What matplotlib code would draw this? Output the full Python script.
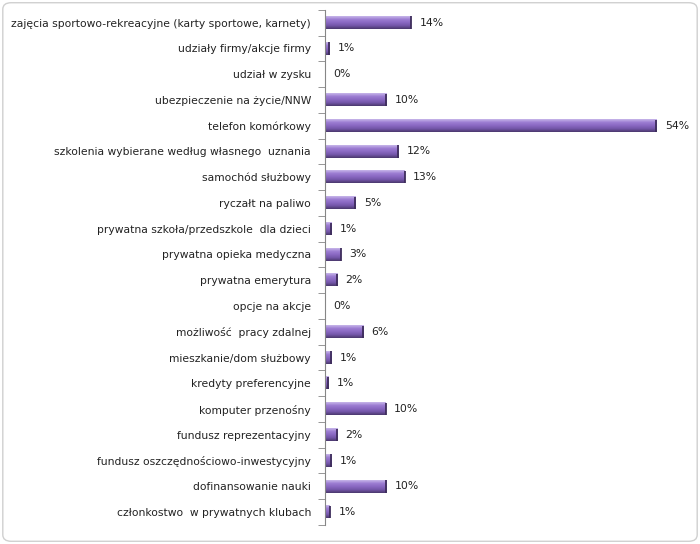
import numpy as np
import matplotlib
matplotlib.use("Agg")
import matplotlib.pyplot as plt
from matplotlib.colors import LinearSegmentedColormap
from matplotlib.patches import FancyBboxPatch

# benefit categories, top to bottom as in the picture
categories = [
    "zajęcia sportowo-rekreacyjne (karty sportowe, karnety)",
    "udziały firmy/akcje firmy",
    "udział w zysku",
    "ubezpieczenie na życie/NNW",
    "telefon komórkowy",
    "szkolenia wybierane według własnego  uznania",
    "samochód służbowy",
    "ryczałt na paliwo",
    "prywatna szkoła/przedszkole  dla dzieci",
    "prywatna opieka medyczna",
    "prywatna emerytura",
    "opcje na akcje",
    "możliwość  pracy zdalnej",
    "mieszkanie/dom służbowy",
    "kredyty preferencyjne",
    "komputer przenośny",
    "fundusz reprezentacyjny",
    "fundusz oszczędnościowo-inwestycyjny",
    "dofinansowanie nauki",
    "członkostwo  w prywatnych klubach",
]
values = [14.0, 0.7, 0.0, 10.0, 54.0, 12.0, 13.0, 5.0, 1.0, 2.6,
          2.0, 0.0, 6.2, 1.0, 0.6, 9.9, 2.0, 1.0, 10.0, 0.8]
labels = ["14%", "1%", "0%", "10%", "54%", "12%", "13%", "5%", "1%", "3%",
          "2%", "0%", "6%", "1%", "1%", "10%", "2%", "1%", "10%", "1%"]

fig = plt.figure(figsize=(7, 5.44), dpi=100)
ax = fig.add_axes([0.464, 0.035, 0.526, 0.947])

# rounded light-grey frame around the whole chart
frame = FancyBboxPatch((0.004, 0.005), 0.992, 0.99,
                       boxstyle="round,pad=0,rounding_size=0.012",
                       transform=fig.transFigure, facecolor="none",
                       edgecolor="#d0d0d0", linewidth=1.0)
fig.patches.append(frame)

cmap = LinearSegmentedColormap.from_list(
    "bar3d", ["#c8b6ea", "#9c7dd2", "#8a68c2", "#7356a8", "#4a376c"])
grad = np.linspace(0, 1, 64).reshape(-1, 1)

n = len(categories)
ypos = np.arange(n)
h = 0.48
for y, v, lab in zip(ypos, values, labels):
    if v > 0:
        ax.imshow(grad, cmap=cmap, aspect="auto", interpolation="bilinear",
                  extent=[0, v, y + h / 2, y - h / 2], zorder=2)
        # darker end cap
        ax.plot([v, v], [y - h / 2, y + h / 2], color="#3e2d5c", lw=1.3,
                zorder=3, solid_capstyle="butt")
    ax.text(v + 1.4, y, lab, va="center", ha="left", fontsize=7.8,
            color="#222222")

ax.set_xlim(0, 60)
ax.set_ylim(n - 0.5, -0.5)
ax.set_yticks(ypos)
ax.set_yticklabels(categories, fontsize=7.75, color="#222222")
ax.set_yticks(np.arange(-0.5, n, 1), minor=True)
ax.tick_params(axis="y", which="major", length=0, pad=10)
ax.tick_params(axis="y", which="minor", length=5, color="#868686")
ax.set_xticks([])
for s in ["top", "right", "bottom"]:
    ax.spines[s].set_visible(False)
ax.spines["left"].set_color("#868686")

fig.savefig("out.png", dpi=100)
